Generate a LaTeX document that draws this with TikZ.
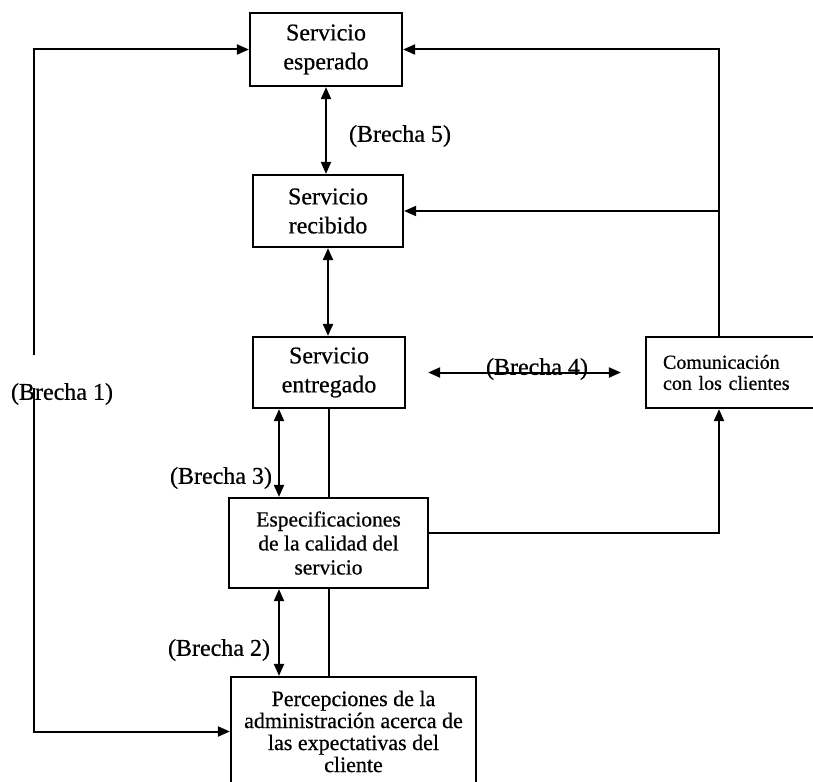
\documentclass[tikz,border=0pt]{standalone}
\usepackage{fontspec}
\setmainfont{Liberation Serif}[FakeBold=0.6]
\usetikzlibrary{arrows.meta}
\begin{document}
\begin{tikzpicture}[x=1pt,y=-1pt,
  box/.style={draw,line width=2.2pt,align=center,inner sep=0pt},
  conn/.style={line width=2pt},
  arr/.style={conn,-{Triangle[length=12pt,width=10pt]}},
  darr/.style={conn,{Triangle[length=12pt,width=10pt]}-{Triangle[length=12pt,width=10pt]}},
  big/.style={font=\fontsize{24}{29}\selectfont},
  gaplabel/.style={big,inner sep=0pt}
]
\useasboundingbox (0,0) rectangle (813,781);

% boxes
\node[box,big,minimum width=152pt,minimum height=73pt] (esp) at (326,49.5) {Servicio\\esperado};
\node[box,big,minimum width=150pt,minimum height=72pt] (rec) at (328,211) {Servicio\\recibido};
\node[box,big,minimum width=152pt,minimum height=71pt] (ent) at (329,372.5) {Servicio\\entregado};
\node[box,minimum width=170pt,minimum height=71pt,text width=136pt,align=left,
      font=\fontsize{20}{21}\selectfont] (com) at (731,372.5) {Comunicación\\con los clientes};
\node[box,minimum width=199pt,minimum height=90pt,
      font=\fontsize{21.5}{24}\selectfont] (spec) at (328.5,543) {Especificaciones\\de la calidad del\\servicio};
\node[box,minimum width=245pt,minimum height=109pt,
      font=\fontsize{22}{22}\selectfont] (perc) at (353.5,731.5) {Percepciones de la\\administración acerca de\\las expectativas del\\cliente};

% gap labels
\node[gaplabel] (b5) at (400,136) {(Brecha 5)};
\node[gaplabel] (b4) at (537,369) {(Brecha 4)};
\node[gaplabel] (b1) at (62,394) {(Brecha 1)};
\node[gaplabel] (b3) at (221,478) {(Brecha 3)};
\node[gaplabel] (b2) at (219,650) {(Brecha 2)};

% helper coordinates
\coordinate (rx) at (719,0);
\coordinate (gx) at (279,0);
\coordinate (l1top) at (34,355);
\coordinate (l1bot) at (34,388);

% left feedback line (Brecha 1)
\draw[arr] (l1top) |- (esp.west);
\draw[arr] (l1bot) |- (perc.west);

% right communication lines
\draw[arr] (com.north -| rx) |- (esp.east);
\draw[arr] (rx |- rec.east) -- (rec.east);
\draw[arr] ([yshift=10pt]spec.east) -| (com.south -| rx);

% central gaps
\draw[darr] (esp.south) -- (esp.south |- rec.north);
\draw[darr] (rec.south) -- (rec.south |- ent.north);
\draw[darr] ([xshift=22pt]ent.east) -- ([xshift=-24pt]com.west);
\draw[darr] (gx |- ent.south) -- (gx |- spec.north);
\draw[darr] (gx |- spec.south) -- (gx |- perc.north);

% plain links
\draw[conn] (ent.south) -- (ent.south |- spec.north);
\draw[conn] (ent.south |- spec.south) -- (ent.south |- perc.north);
\end{tikzpicture}
\end{document}
